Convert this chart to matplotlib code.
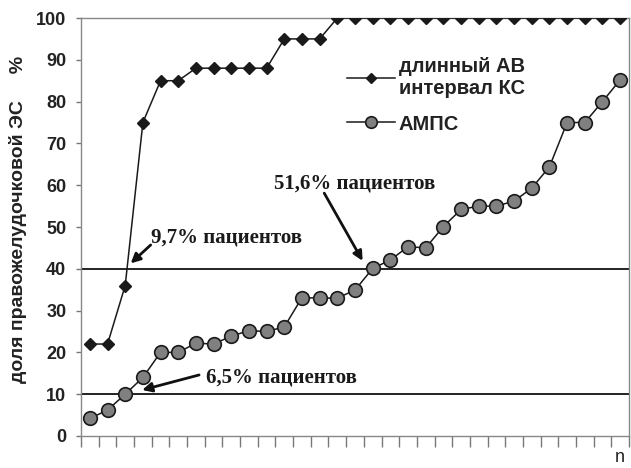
import matplotlib
matplotlib.use("Agg")
import matplotlib.pyplot as plt
import numpy as np

# Data
n_points = 31
long_av = [22, 22, 36, 75, 85, 85, 88, 88, 88, 88, 88, 95, 95, 95] + [100] * 17
amps = [4.2, 6.2, 10, 14, 20, 20, 22.2, 22, 23.9, 25.2, 25, 26.1, 33.1, 33, 33, 34.9,
        40.1, 42.1, 45.3, 45, 50.1, 54.2, 55, 55, 56.2, 59.3, 64.4, 75, 75, 80, 85.2]
series_labels = ["длинный АВ\nинтервал КС", "АМПС"]
yticks = [0, 10, 20, 30, 40, 50, 60, 70, 80, 90, 100]
hlines = [40, 10]
annot_texts = ["9,7% пациентов", "6,5% пациентов", "51,6% пациентов"]

x = np.arange(n_points)

fig = plt.figure(figsize=(6.31, 4.68), dpi=100)
ax = fig.add_axes([0.1284, 0.0684, 0.8684, 0.8931])

ax.plot(x, long_av, color="#1a1a1a", lw=1.1, marker="D", markersize=6.5,
        markerfacecolor="#1a1a1a", markeredgecolor="#1a1a1a", label=series_labels[0], zorder=3)
ax.plot(x, amps, color="#1a1a1a", lw=1.1, marker="o", markersize=9.8,
        markerfacecolor="#808080", markeredgecolor="#1a1a1a", markeredgewidth=1.2,
        label=series_labels[1], zorder=3)

for h in hlines:
    ax.axhline(h, color="#111111", lw=1.3, zorder=2)

ax.set_xlim(-0.5, n_points - 0.5)
ax.set_ylim(0, 100)
ax.set_xticks(np.arange(-0.5, n_points, 1.0))
ax.set_xticklabels([])
ax.set_yticks(yticks)
ax.set_yticklabels([str(v) for v in yticks], fontsize=13, fontweight="bold",
                   color="#222222", family="Liberation Sans")

ax.tick_params(axis="x", direction="out", length=8, width=1, color="#777777")
ax.tick_params(axis="y", direction="out", length=3.6, width=1, color="#777777", pad=7)
for s in ax.spines.values():
    s.set_color("#888888")
    s.set_linewidth(1.0)

ax.set_ylabel("доля правожелудочковой ЭС     %", fontsize=14, fontweight="bold",
              color="#222222", family="Liberation Sans")
ax.yaxis.set_label_coords(-0.098, 0.517)

leg = ax.legend(loc="upper left", bbox_to_anchor=(0.47, 0.925), frameon=False,
                prop={"family": "Liberation Sans", "weight": "bold", "size": 14.5},
                handlelength=2.4, handletextpad=0.2, labelspacing=0.8, borderaxespad=0,
                markerscale=0.85)
for t in leg.get_texts():
    t.set_color("#222222")
    t.set_linespacing(1.2)

serif = dict(family="Liberation Serif", fontweight="bold", fontsize=15, color="#1a1a1a")
arrow = dict(arrowstyle="-|>", color="#111111", lw=2, mutation_scale=14, shrinkA=0, shrinkB=0)

ax.text(3.46, 47.6, annot_texts[0], ha="left", va="center", **serif)
ax.annotate("", xy=(2.31, 41.3), xytext=(3.44, 45.7), arrowprops=arrow)

ax.text(6.57, 14.1, annot_texts[1], ha="left", va="center", **serif)
ax.annotate("", xy=(2.96, 11.0), xytext=(6.18, 14.6), arrowprops=arrow)

ax.text(10.42, 60.5, annot_texts[2], ha="left", va="center", **serif)
ax.annotate("", xy=(15.43, 41.9), xytext=(13.26, 58.1), arrowprops=arrow)

fig.text(620 / 631, 1 - 458 / 468, "n", fontsize=13, color="#222222",
         family="Liberation Sans", ha="center", va="center")

fig.savefig("out.png", dpi=100)
